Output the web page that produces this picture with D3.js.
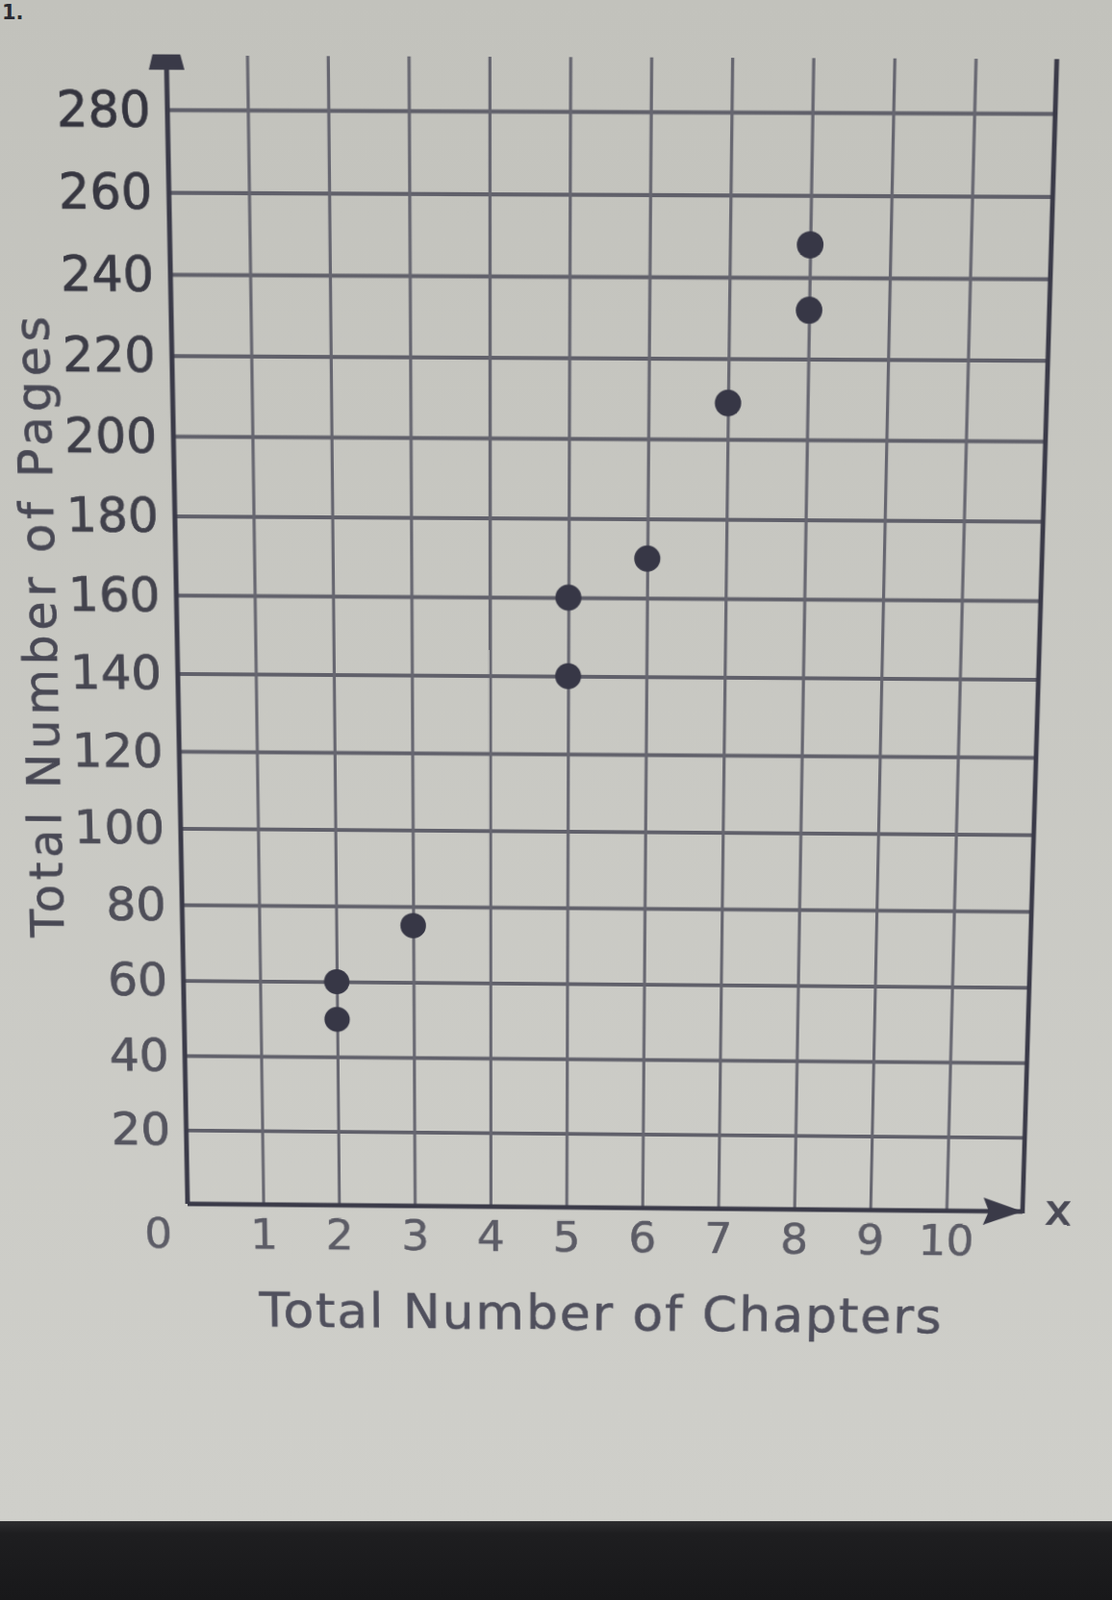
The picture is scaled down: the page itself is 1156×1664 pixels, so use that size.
<!DOCTYPE html>
<html><head><meta charset="utf-8">
<script src="https://cdn.jsdelivr.net/npm/d3@7/dist/d3.min.js"></script>
<style>
html,body{margin:0;padding:0;width:1156px;height:1664px;overflow:hidden;background:#c6c6c0;}
#bg,#chart{position:absolute;left:0;top:0;}
#chart{transform-origin:0 0;}
text{font-family:"DejaVu Sans",Verdana,sans-serif;}
</style></head><body>
<svg id="bg" width="1156" height="1664"></svg>
<svg id="chart" width="1156" height="1664"></svg>
<script>
// ---- data ----
const chapters = [2, 2, 3, 5, 5, 6, 7, 8, 8];
const pages    = [60, 50, 75, 160, 140, 170, 209, 248, 232];
const xTicks = [1, 2, 3, 4, 5, 6, 7, 8, 9, 10];
const yTicks = [20, 40, 60, 80, 100, 120, 140, 160, 180, 200, 220, 240, 260, 280];
const xTitle = "Total Number of Chapters";
const yTitle = "Total Number of Pages";
const originLabel = "0";
const xAxisLetter = "x";
const problemNumber = "1.";

// ---- background layer (flat) ----
const bg = d3.select("#bg");
const defs = bg.append("defs");
const g1 = defs.append("linearGradient").attr("id","paper").attr("x1",0).attr("y1",0).attr("x2",0).attr("y2",1);
g1.append("stop").attr("offset","0").attr("stop-color","#c2c2bc");
g1.append("stop").attr("offset","1").attr("stop-color","#cfcfca");
const g2 = defs.append("linearGradient").attr("id","band").attr("x1",0).attr("y1",0).attr("x2",0).attr("y2",1);
g2.append("stop").attr("offset","0").attr("stop-color","#2e2e30");
g2.append("stop").attr("offset","0.15").attr("stop-color","#1e1e20");
g2.append("stop").attr("offset","1").attr("stop-color","#18181a");
bg.append("rect").attr("width",1156).attr("height",1582).attr("fill","url(#paper)");
bg.append("rect").attr("y",1582).attr("width",1156).attr("height",82).attr("fill","url(#band)");
bg.append("text").attr("x",2).attr("y",20).attr("font-size",21).attr("font-weight","bold")
  .attr("fill","#2a2a30").text(problemNumber);

// ---- chart layer (drawn flat, then put in the photo's perspective) ----
const svg = d3.select("#chart");
const xMax = 11, yMax = 280, yTop = 293;
const x = d3.scaleLinear().domain([0, xMax]).range([184, 1080]);
const y = d3.scaleLinear().domain([0, yMax]).range([1256, 115]);

// grid: horizontal
const gridH = svg.append("g").attr("transform",`translate(${x(0)},0)`)
  .call(d3.axisLeft(y).tickValues(yTicks).tickSize(-(x(xMax)-x(0))).tickFormat(""));
gridH.select(".domain").remove();
gridH.selectAll("line").attr("stroke","#60606a").attr("stroke-width",3.8);

// grid: vertical
const gridV = svg.append("g").attr("transform",`translate(0,${y(0)})`)
  .call(d3.axisBottom(x).tickValues(xTicks).tickSize(-(y(0)-y(yTop))).tickFormat(""));
gridV.select(".domain").remove();
gridV.selectAll("line").attr("stroke","#666670").attr("stroke-width",3.2);

// axes lines
const axisCol = "#3a3a48";
svg.append("line").attr("x1",x(0)).attr("x2",x(0)).attr("y1",y(0)).attr("y2",y(yTop)+8)
  .attr("stroke",axisCol).attr("stroke-width",5);
svg.append("line").attr("x1",x(0)).attr("x2",x(xMax)).attr("y1",y(0)).attr("y2",y(0))
  .attr("stroke",axisCol).attr("stroke-width",5);
svg.append("line").attr("x1",x(xMax)).attr("x2",x(xMax)).attr("y1",y(0)+2).attr("y2",y(yTop))
  .attr("stroke",axisCol).attr("stroke-width",4.8);
// arrow heads
svg.append("path")
  .attr("d",`M${x(xMax)},${y(0)} l-42,-15 l6,15 l-6,15 z`)
  .attr("fill",axisCol);
svg.append("path")
  .attr("d",`M${x(0)-18},${y(yTop)+14} L${x(0)-14},${y(yTop)-1} L${x(0)+14},${y(yTop)-1} L${x(0)+18},${y(yTop)+14} z`)
  .attr("fill",axisCol);

// y tick labels
const labelCol = d3.scaleLinear().domain([0, yMax]).range(["#585862","#34343e"]);
const yAx = svg.append("g").attr("transform",`translate(${x(0)},0)`)
  .call(d3.axisLeft(y).tickValues(yTicks).tickSize(0).tickPadding(17));
yAx.select(".domain").remove();
yAx.selectAll("text").attr("font-size",50).attr("font-family","DejaVu Sans, sans-serif")
  .attr("fill",d=>labelCol(d)).attr("stroke",d=>labelCol(d)).attr("stroke-width",0.7);

// x tick labels
const xAx = svg.append("g").attr("transform",`translate(0,${y(0)})`)
  .call(d3.axisBottom(x).tickValues(xTicks).tickSize(0).tickPadding(16));
xAx.select(".domain").remove();
xAx.selectAll("text").attr("font-size",47).attr("font-family","DejaVu Sans, sans-serif")
  .attr("fill","#5c5c66").attr("stroke","#5c5c66").attr("stroke-width",0.5);
svg.append("text").attr("x",x(0)-32).attr("y",y(0)+16).attr("dy","0.71em")
  .attr("text-anchor","middle").attr("font-size",47).attr("fill","#5c5c66")
  .attr("stroke","#5c5c66").attr("stroke-width",0.5).text(originLabel);
svg.append("text").attr("x",x(xMax)+38).attr("y",y(0)+14)
  .attr("text-anchor","middle").attr("font-size",46).attr("fill","#4a4a56")
  .attr("stroke","#4a4a56").attr("stroke-width",1.5).text(xAxisLetter);

// titles
svg.append("text").attr("x",(x(0)+x(xMax))/2 - 3).attr("y",y(0)+136)
  .attr("text-anchor","middle").attr("font-size",54).attr("letter-spacing",2)
  .attr("fill","#50505d").attr("stroke","#50505d").attr("stroke-width",0.6).text(xTitle);
svg.append("text").attr("transform",`translate(58,641) rotate(-90)`)
  .attr("text-anchor","middle").attr("font-size",49).attr("letter-spacing",4.8)
  .attr("fill","#484854").attr("stroke","#484854").attr("stroke-width",0.6).text(yTitle);

// points
svg.append("g").selectAll("circle").data(chapters.map((c,i)=>[c,pages[i]])).join("circle")
  .attr("cx",d=>x(d[0])).attr("cy",d=>y(d[1])).attr("r",13.5).attr("fill","#373746");

// ---- perspective of the photograph (homography from flat frame corners) ----
function homography(src, dst){
  const A=[], B=[];
  for(let i=0;i<4;i++){
    const [sx,sy]=src[i],[u,v]=dst[i];
    A.push([sx,sy,1,0,0,0,-sx*u,-sy*u]); B.push(u);
    A.push([0,0,0,sx,sy,1,-sx*v,-sy*v]); B.push(v);
  }
  const n=8;
  for(let c=0;c<n;c++){
    let p=c; for(let r=c+1;r<n;r++) if(Math.abs(A[r][c])>Math.abs(A[p][c])) p=r;
    [A[c],A[p]]=[A[p],A[c]]; [B[c],B[p]]=[B[p],B[c]];
    for(let r=0;r<n;r++){ if(r===c) continue; const f=A[r][c]/A[c][c];
      for(let k=c;k<n;k++) A[r][k]-=f*A[c][k]; B[r]-=f*B[c]; }
  }
  return B.map((b,i)=>b/A[i][i]);
}
const src = [[x(0),y(0)],[x(xMax),y(0)],[x(0),y(yMax)],[x(xMax),y(yMax)]];
const dst = [[195,1252],[1063,1260],[174,114],[1097,118]];
const [a,b,c,d,e,f,gg,h] = homography(src,dst);
document.getElementById("chart").style.transform =
  `matrix3d(${a},${d},0,${gg},${b},${e},0,${h},0,0,1,0,${c},${f},0,1)`;
</script>
</body></html>
